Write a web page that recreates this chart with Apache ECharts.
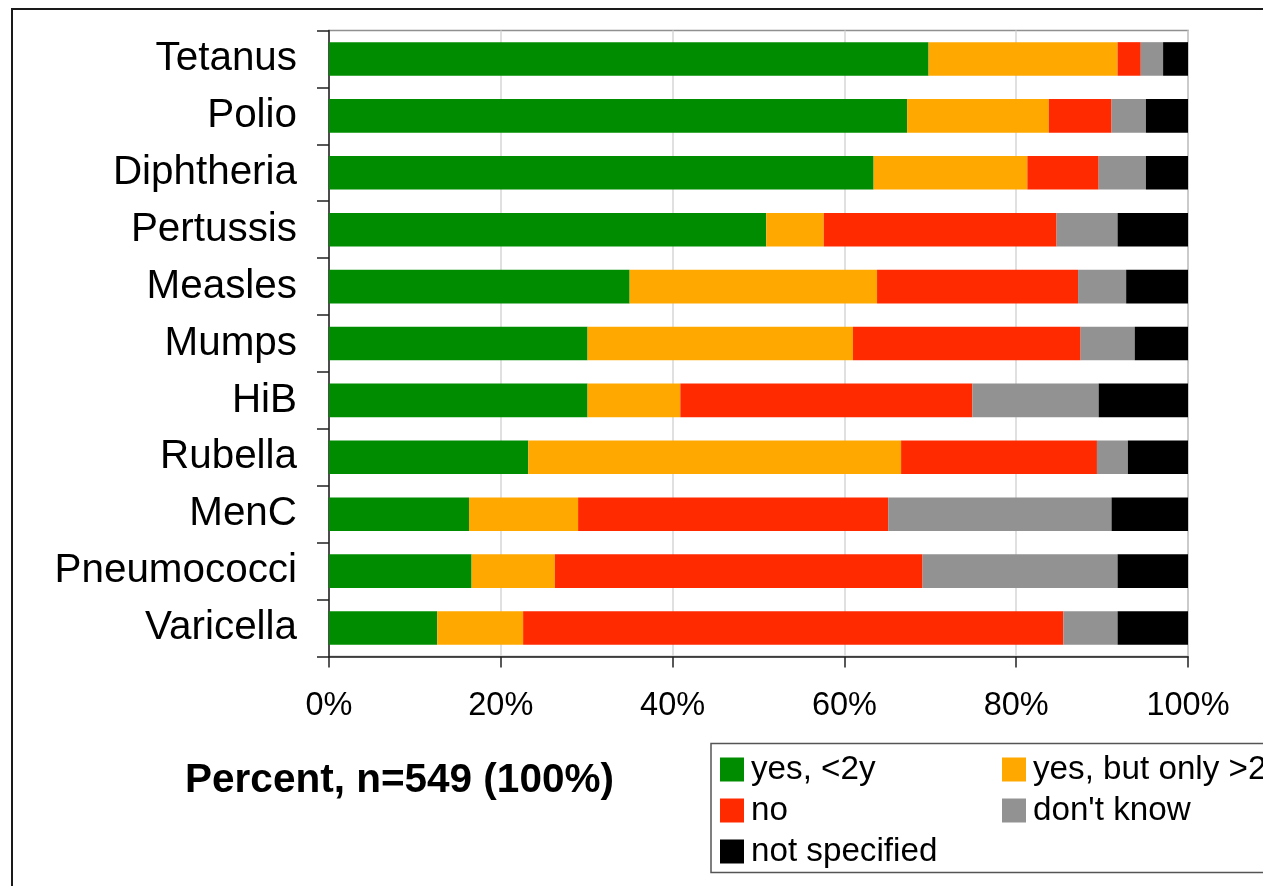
<!DOCTYPE html>
<html>
<head>
<meta charset="utf-8">
<script src="https://cdn.jsdelivr.net/npm/echarts@6/dist/echarts.min.js"></script>
<style>
html,body{margin:0;padding:0;background:#fff;}
#chart{width:1263px;height:886px;}
</style>
</head>
<body>
<div id="chart"></div>
<script>
var categories = ['Tetanus','Polio','Diphtheria','Pertussis','Measles','Mumps','HiB','Rubella','MenC','Pneumococci','Varicella'];
var yesUnder2 = [69.8, 67.3, 63.4, 50.9, 35.0, 30.1, 30.1, 23.2, 16.3, 16.6, 12.6];
var yesOver2 = [22.0, 16.5, 17.9, 6.7, 28.8, 30.9, 10.8, 43.4, 12.7, 9.7, 10.0];
var noVals = [2.7, 7.3, 8.3, 27.1, 23.4, 26.5, 34.0, 22.8, 36.1, 42.8, 62.9];
var dontKnow = [2.6, 4.0, 5.5, 7.1, 5.6, 6.3, 14.7, 3.6, 26.0, 22.7, 6.3];
var notSpecified = [2.9, 4.9, 4.9, 8.2, 7.2, 6.2, 10.4, 7.0, 8.9, 8.2, 8.2];
var seriesNames = ['yes, <2y', 'yes, but only >2y', 'no', "don't know", 'not specified'];
var xTicks = [0, 20, 40, 60, 80, 100];
var titleText = 'Percent, n=549 (100%)';

var colors = ['#008c00', '#ffa800', '#ff2a00', '#929292', '#000000'];
var font = "'Liberation Sans', Arial, sans-serif";
var allData = [yesUnder2, yesOver2, noVals, dontKnow, notSpecified];

var chart = echarts.init(document.getElementById('chart'));
chart.setOption({
  animation: false,
  color: colors,
  textStyle: {fontFamily: font},
  title: {
    text: titleText,
    left: 399.5,
    textAlign: 'center',
    top: 760,
    padding: 0,
    textStyle: {fontFamily: font, fontSize: 40.5, fontWeight: 'bold', color: '#000', lineHeight: 42}
  },
  legend: {
    left: 720,
    top: 753,
    width: 600,
    padding: 0,
    orient: 'horizontal',
    itemWidth: 24,
    itemHeight: 24,
    itemGap: 8,
    icon: 'rect',
    data: seriesNames,
    textStyle: {fontFamily: font, fontSize: 33.2, color: '#000', lineHeight: 32, width: 243, overflow: 'none', padding: [0, 0, 0, 2]}
  },
  grid: {
    left: 329, right: 75, top: 30.5, bottom: 229.5,
    show: true, borderColor: '#909090', borderWidth: 1.5, containLabel: false
  },
  xAxis: {
    type: 'value', min: 0, max: 100, interval: 20,
    axisLine: {show: true, lineStyle: {color: '#222', width: 1.5}},
    axisTick: {show: true, length: 11, lineStyle: {color: '#222', width: 1.5}},
    axisLabel: {formatter: '{value}%', fontSize: 32.5, color: '#000', margin: 33, fontFamily: font},
    splitLine: {show: true, lineStyle: {color: '#d6d6d6', width: 1.5}}
  },
  yAxis: {
    type: 'category', data: categories, inverse: true,
    axisLine: {show: true, lineStyle: {color: '#222', width: 1.5}},
    axisTick: {show: true, length: 12, lineStyle: {color: '#222', width: 1.5}},
    axisLabel: {fontSize: 40.4, color: '#000', margin: 32, fontFamily: font},
    splitLine: {show: false}
  },
  series: seriesNames.map(function (name, i) {
    return {
      name: name, type: 'bar', stack: 'total', data: allData[i],
      barCategoryGap: '41%',
      itemStyle: {color: colors[i]},
      emphasis: {disabled: true}
    };
  }),
  graphic: [
    {type: 'rect', shape: {x: 12, y: 9, width: 1300, height: 900}, style: {fill: 'none', stroke: '#1a1a1a', lineWidth: 2}, silent: true, z: 100},
    {type: 'rect', shape: {x: 711, y: 743.5, width: 700, height: 129}, style: {fill: 'none', stroke: '#555', lineWidth: 1.5}, silent: true, z: 100}
  ]
});
</script>
</body>
</html>
